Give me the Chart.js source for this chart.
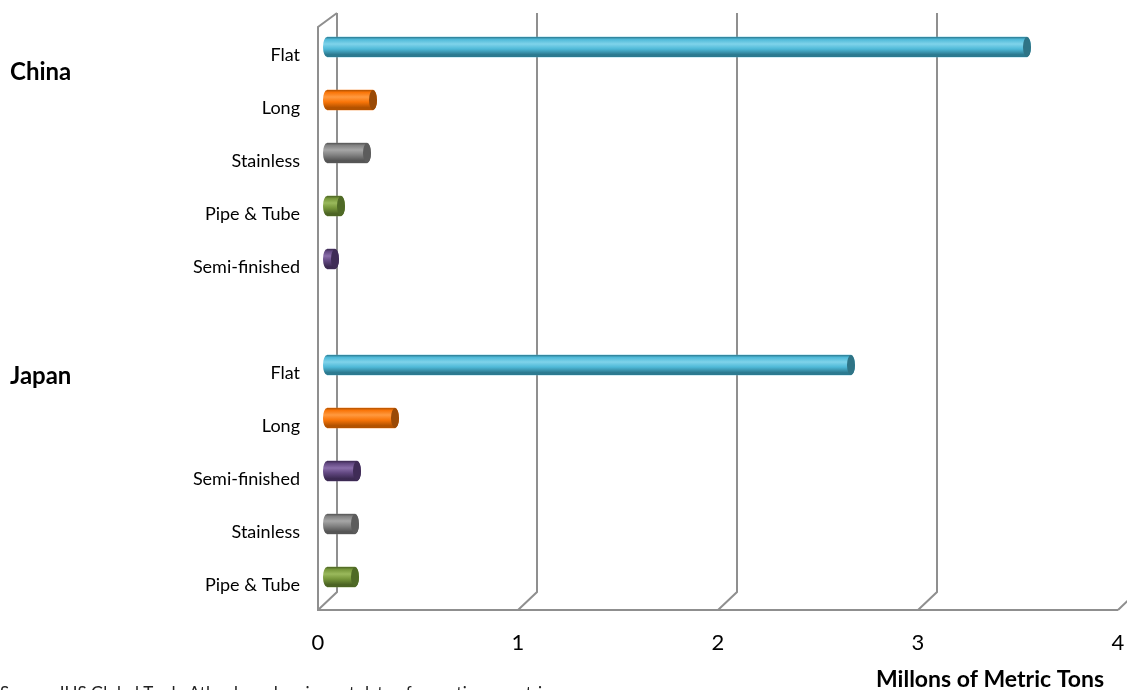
<!DOCTYPE html>
<html><head><meta charset="utf-8">
<script src="https://cdn.jsdelivr.net/npm/chart.js@4"></script>
<style>html,body{margin:0;padding:0;background:#fff;overflow:hidden}#wrap{width:1127px;height:690px;position:relative}</style>
</head><body><div id="wrap"><canvas id="c" width="1127" height="690"></canvas></div>
<script>
// ---- data ----
const categories = ['Flat','Long','Stainless','Pipe & Tube','Semi-finished','','Flat','Long','Semi-finished','Stainless','Pipe & Tube'];
const values = [3.50,0.23,0.20,0.07,0.04,null,2.62,0.34,0.15,0.14,0.14];
const groups = ['China','Japan'];
const groupAnchor = [0.47, 6.21];   // position (in category rows) of each group label
const xTicks = [0,1,2,3,4];
const axisTitle = 'Millons of Metric Tons';
const sourceNote = 'Source: IHS Global Trade Atlas, based on import data of reporting countries';

// ---- styling ----
const palette = {
  'Flat':          {light:'#7fd3ea', mid:'#4fb9d8', dark:'#2c7a90', cap:'#2f7486'},
  'Long':          {light:'#ff9a40', mid:'#f97508', dark:'#b35200', cap:'#9a4a06'},
  'Stainless':     {light:'#a6a6a6', mid:'#828282', dark:'#555555', cap:'#5c5c5c'},
  'Pipe & Tube':   {light:'#9ab95c', mid:'#76963a', dark:'#4c6424', cap:'#4f6a26'},
  'Semi-finished': {light:'#8a6eaa', mid:'#614780', dark:'#3c2a52', cap:'#3f2c56'}
};
const FONT = 'Lato, "Open Sans", sans-serif';
const GRID = '#8f8f8f';

function drawGrid(chart){
  const {ctx, chartArea:a, scales:{x}} = chart;
  const dxF = -9, dxB = 10;
  const backTop = a.top - 7.5, backBot = a.bottom - 11.5;
  const frontTop = a.top + 6.5, frontBot = a.bottom + 6.5;
  ctx.save();
  ctx.strokeStyle = GRID; ctx.lineWidth = 2; ctx.lineCap='butt';
  xTicks.forEach(v=>{
    const p = x.getPixelForValue(v);
    ctx.beginPath();
    ctx.moveTo(p+dxB, backTop); ctx.lineTo(p+dxB, backBot); ctx.lineTo(p+dxF, frontBot);
    ctx.stroke();
  });
  const p0 = x.getPixelForValue(xTicks[0]);
  const pN = x.getPixelForValue(xTicks[xTicks.length-1]);
  ctx.beginPath();
  ctx.moveTo(p0+dxB, backTop); ctx.lineTo(p0+dxF, frontTop); ctx.lineTo(p0+dxF, frontBot); ctx.lineTo(pN+dxF, frontBot);
  ctx.stroke();
  ctx.restore();
}

function drawCylinders(chart){
  const {ctx} = chart;
  const meta = chart.getDatasetMeta(0);
  meta.data.forEach((el,i)=>{
    if(values[i]==null) return;
    const c = palette[categories[i]];
    const {x, y, base, height} = el.getProps(['x','y','base','height'], true);
    const ry = height/2, rx = 4;
    ctx.save();
    const g = ctx.createLinearGradient(0, y-ry, 0, y+ry);
    g.addColorStop(0, c.dark);
    g.addColorStop(0.12, c.mid);
    g.addColorStop(0.35, c.light);
    g.addColorStop(0.6, c.mid);
    g.addColorStop(0.88, c.dark);
    g.addColorStop(1, c.dark);
    ctx.beginPath();
    ctx.moveTo(base, y-ry);
    ctx.lineTo(x, y-ry);
    ctx.ellipse(x, y, rx, ry, 0, -Math.PI/2, Math.PI/2, false);
    ctx.lineTo(base, y+ry);
    ctx.ellipse(base, y, rx, ry, 0, Math.PI/2, Math.PI*1.5, false);
    ctx.closePath();
    ctx.fillStyle = g; ctx.fill();
    ctx.beginPath();
    ctx.ellipse(x, y, rx, ry, 0, 0, Math.PI*2);
    ctx.fillStyle = c.cap; ctx.fill();
    ctx.restore();
  });
}

function drawTexts(chart){
  const {ctx, chartArea:a, scales:{x,y}} = chart;
  ctx.save();
  ctx.fillStyle = '#000';
  ctx.textAlign = 'center'; ctx.textBaseline = 'middle';
  ctx.font = '22px ' + FONT;
  xTicks.forEach(v=>{ ctx.fillText(String(v), x.getPixelForValue(v)-9, a.bottom + 39); });
  ctx.font = 'bold 23px ' + FONT;
  ctx.fillText(axisTitle, 990, a.bottom + 76);
  ctx.textAlign = 'left';
  ctx.font = 'bold 24px ' + FONT;
  groups.forEach((g,i)=>{ ctx.fillText(g, 10, y.getPixelForValue(groupAnchor[i])); });
  ctx.font = '17px ' + FONT;
  ctx.fillStyle = '#222';
  ctx.textBaseline = 'alphabetic';
  ctx.fillText(sourceNote, 0, 699);
  ctx.restore();
}

const cylPlugin = {
  id:'cyl',
  beforeDatasetsDraw(chart){ drawGrid(chart); },
  afterDatasetsDraw(chart){ drawCylinders(chart); },
  afterDraw(chart){ drawTexts(chart); }
};

new Chart(document.getElementById('c'), {
  type:'bar',
  data:{
    labels: categories,
    datasets:[{
      data: values,
      backgroundColor: categories.map(k=> k ? palette[k].mid : 'transparent'),
      borderWidth:0,
      barThickness:20
    }]
  },
  options:{
    indexAxis:'y',
    responsive:false,
    animation:false,
    devicePixelRatio:1,
    layout:{padding:{top:20.5, bottom:86.5, left:0, right:0}},
    plugins:{legend:{display:false}, tooltip:{enabled:false}},
    scales:{
      x:{min:0, max:4, display:false},
      y:{
        grid:{display:false, drawTicks:false},
        border:{display:false},
        afterFit(s){ s.width = 327; s.paddingTop = 0; s.paddingBottom = 0; },
        ticks:{padding:27, labelOffset:8, color:'#000', font:{family:FONT, size:18}}
      }
    }
  },
  plugins:[cylPlugin]
});
</script>
</body></html>
